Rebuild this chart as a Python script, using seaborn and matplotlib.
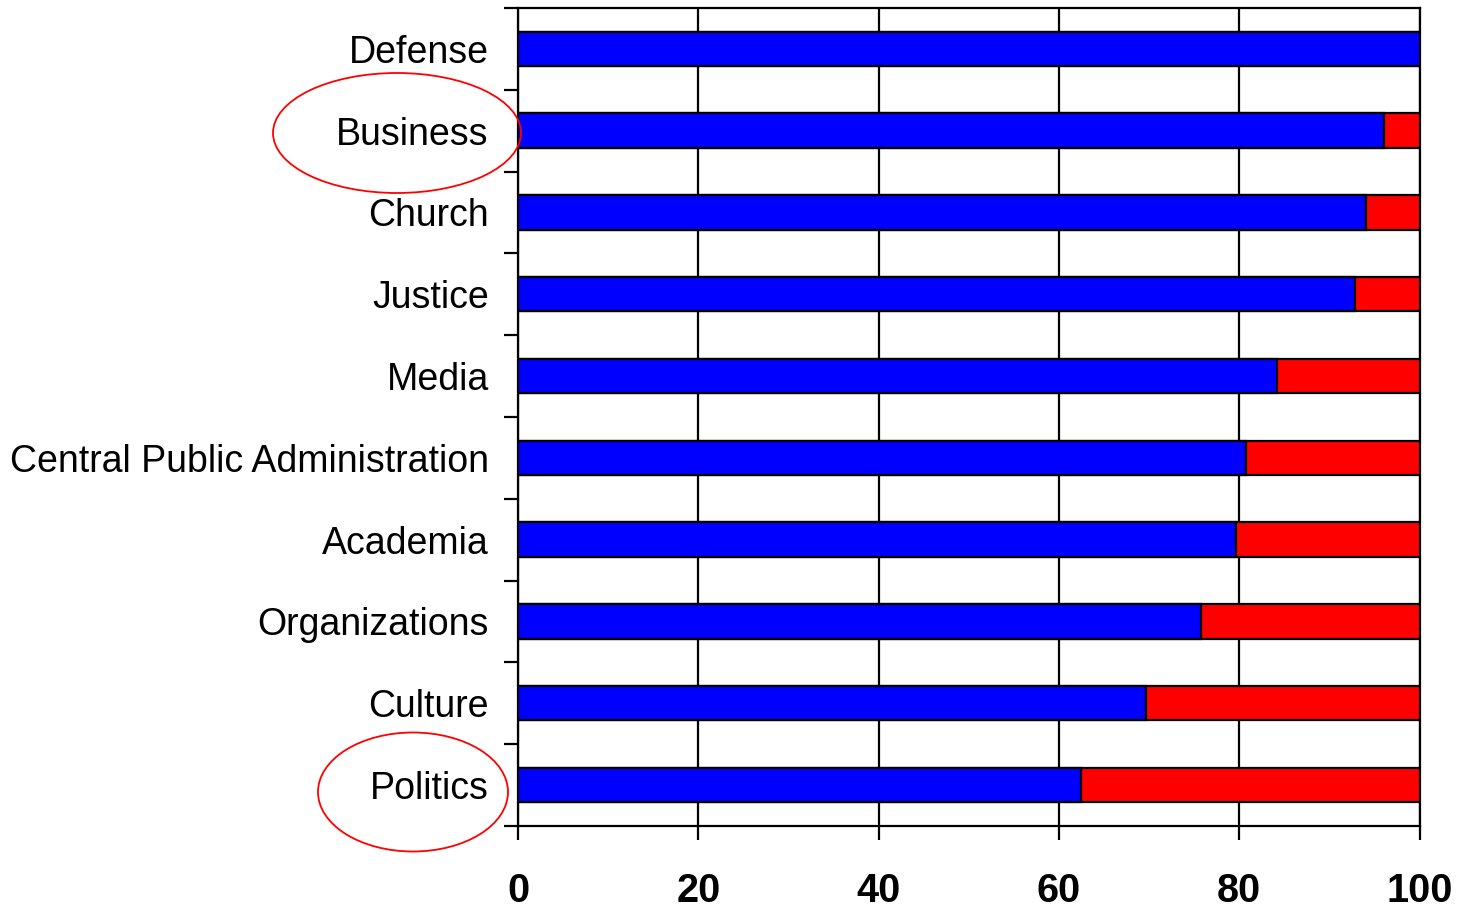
import pandas as pd
import matplotlib.pyplot as plt
import seaborn as sns
from matplotlib.patches import Ellipse
from matplotlib.ticker import MultipleLocator

# Data
categories = ['Defense', 'Business', 'Church', 'Justice', 'Media',
              'Central Public Administration', 'Academia', 'Organizations',
              'Culture', 'Politics']
blue_share = [100, 96.0, 94.1, 92.8, 84.2, 80.7, 79.6, 75.7, 69.7, 62.5]
total = [100] * len(categories)
x_ticks = [0, 20, 40, 60, 80, 100]

df = pd.DataFrame({'category': categories, 'blue': blue_share, 'total': total})

sns.set_style('white')
plt.rcParams['font.family'] = ['Liberation Sans', 'DejaVu Sans']
plt.rcParams['text.color'] = 'black'
plt.rcParams['xtick.color'] = 'black'
plt.rcParams['ytick.color'] = 'black'

fig = plt.figure(figsize=(14.59, 9.10), dpi=100)
ax = fig.add_axes([0.355, 0.0923, 0.618, 0.899])

# red = remainder, drawn as full bar underneath the blue share
sns.barplot(data=df, x='total', y='category', color='#ff0000', saturation=1,
            width=0.42, edgecolor='black', linewidth=1.6, ax=ax, zorder=3)
sns.barplot(data=df, x='blue', y='category', color='#0000ff', saturation=1,
            width=0.42, edgecolor='black', linewidth=1.6, ax=ax, zorder=4)

ax.set_xlim(0, 100)
ax.set_ylim(len(categories) - 0.5, -0.5)
ax.set_xticks(x_ticks)
ax.set_xticklabels([str(t) for t in x_ticks], fontsize=28.5, fontweight='bold',
                   family=['Liberation Sans Narrow', 'Liberation Sans'])
ax.set_yticks(range(len(categories)))
ax.set_yticklabels(categories, fontsize=27)
ax.yaxis.set_minor_locator(MultipleLocator(1, offset=0.5))
ax.tick_params(axis='y', which='major', length=0, pad=21, labelcolor='black')
ax.tick_params(axis='y', which='minor', left=True, length=10, width=1.6, color='black')
ax.tick_params(axis='x', which='major', bottom=True, length=10, width=1.6,
               color='black', pad=23, labelcolor='black')
ax.set_xlabel('')
ax.set_ylabel('')

ax.grid(True, axis='x', color='black', linewidth=1.6, zorder=0)
ax.set_axisbelow(True)
for s in ax.spines.values():
    s.set_color('black')
    s.set_linewidth(1.6)

# red ellipses highlighting two labels (figure pixel coords)
W, H = 1459, 910
for cx, cy, w, h in [(397, 133, 248, 120), (413, 792, 190, 119)]:
    e = Ellipse((cx / W, 1 - cy / H), w / W, h / H, transform=fig.transFigure,
                fill=False, edgecolor='#ff0000', linewidth=1.3, clip_on=False)
    fig.add_artist(e)

plt.savefig('out.png', dpi=100)
plt.close()
